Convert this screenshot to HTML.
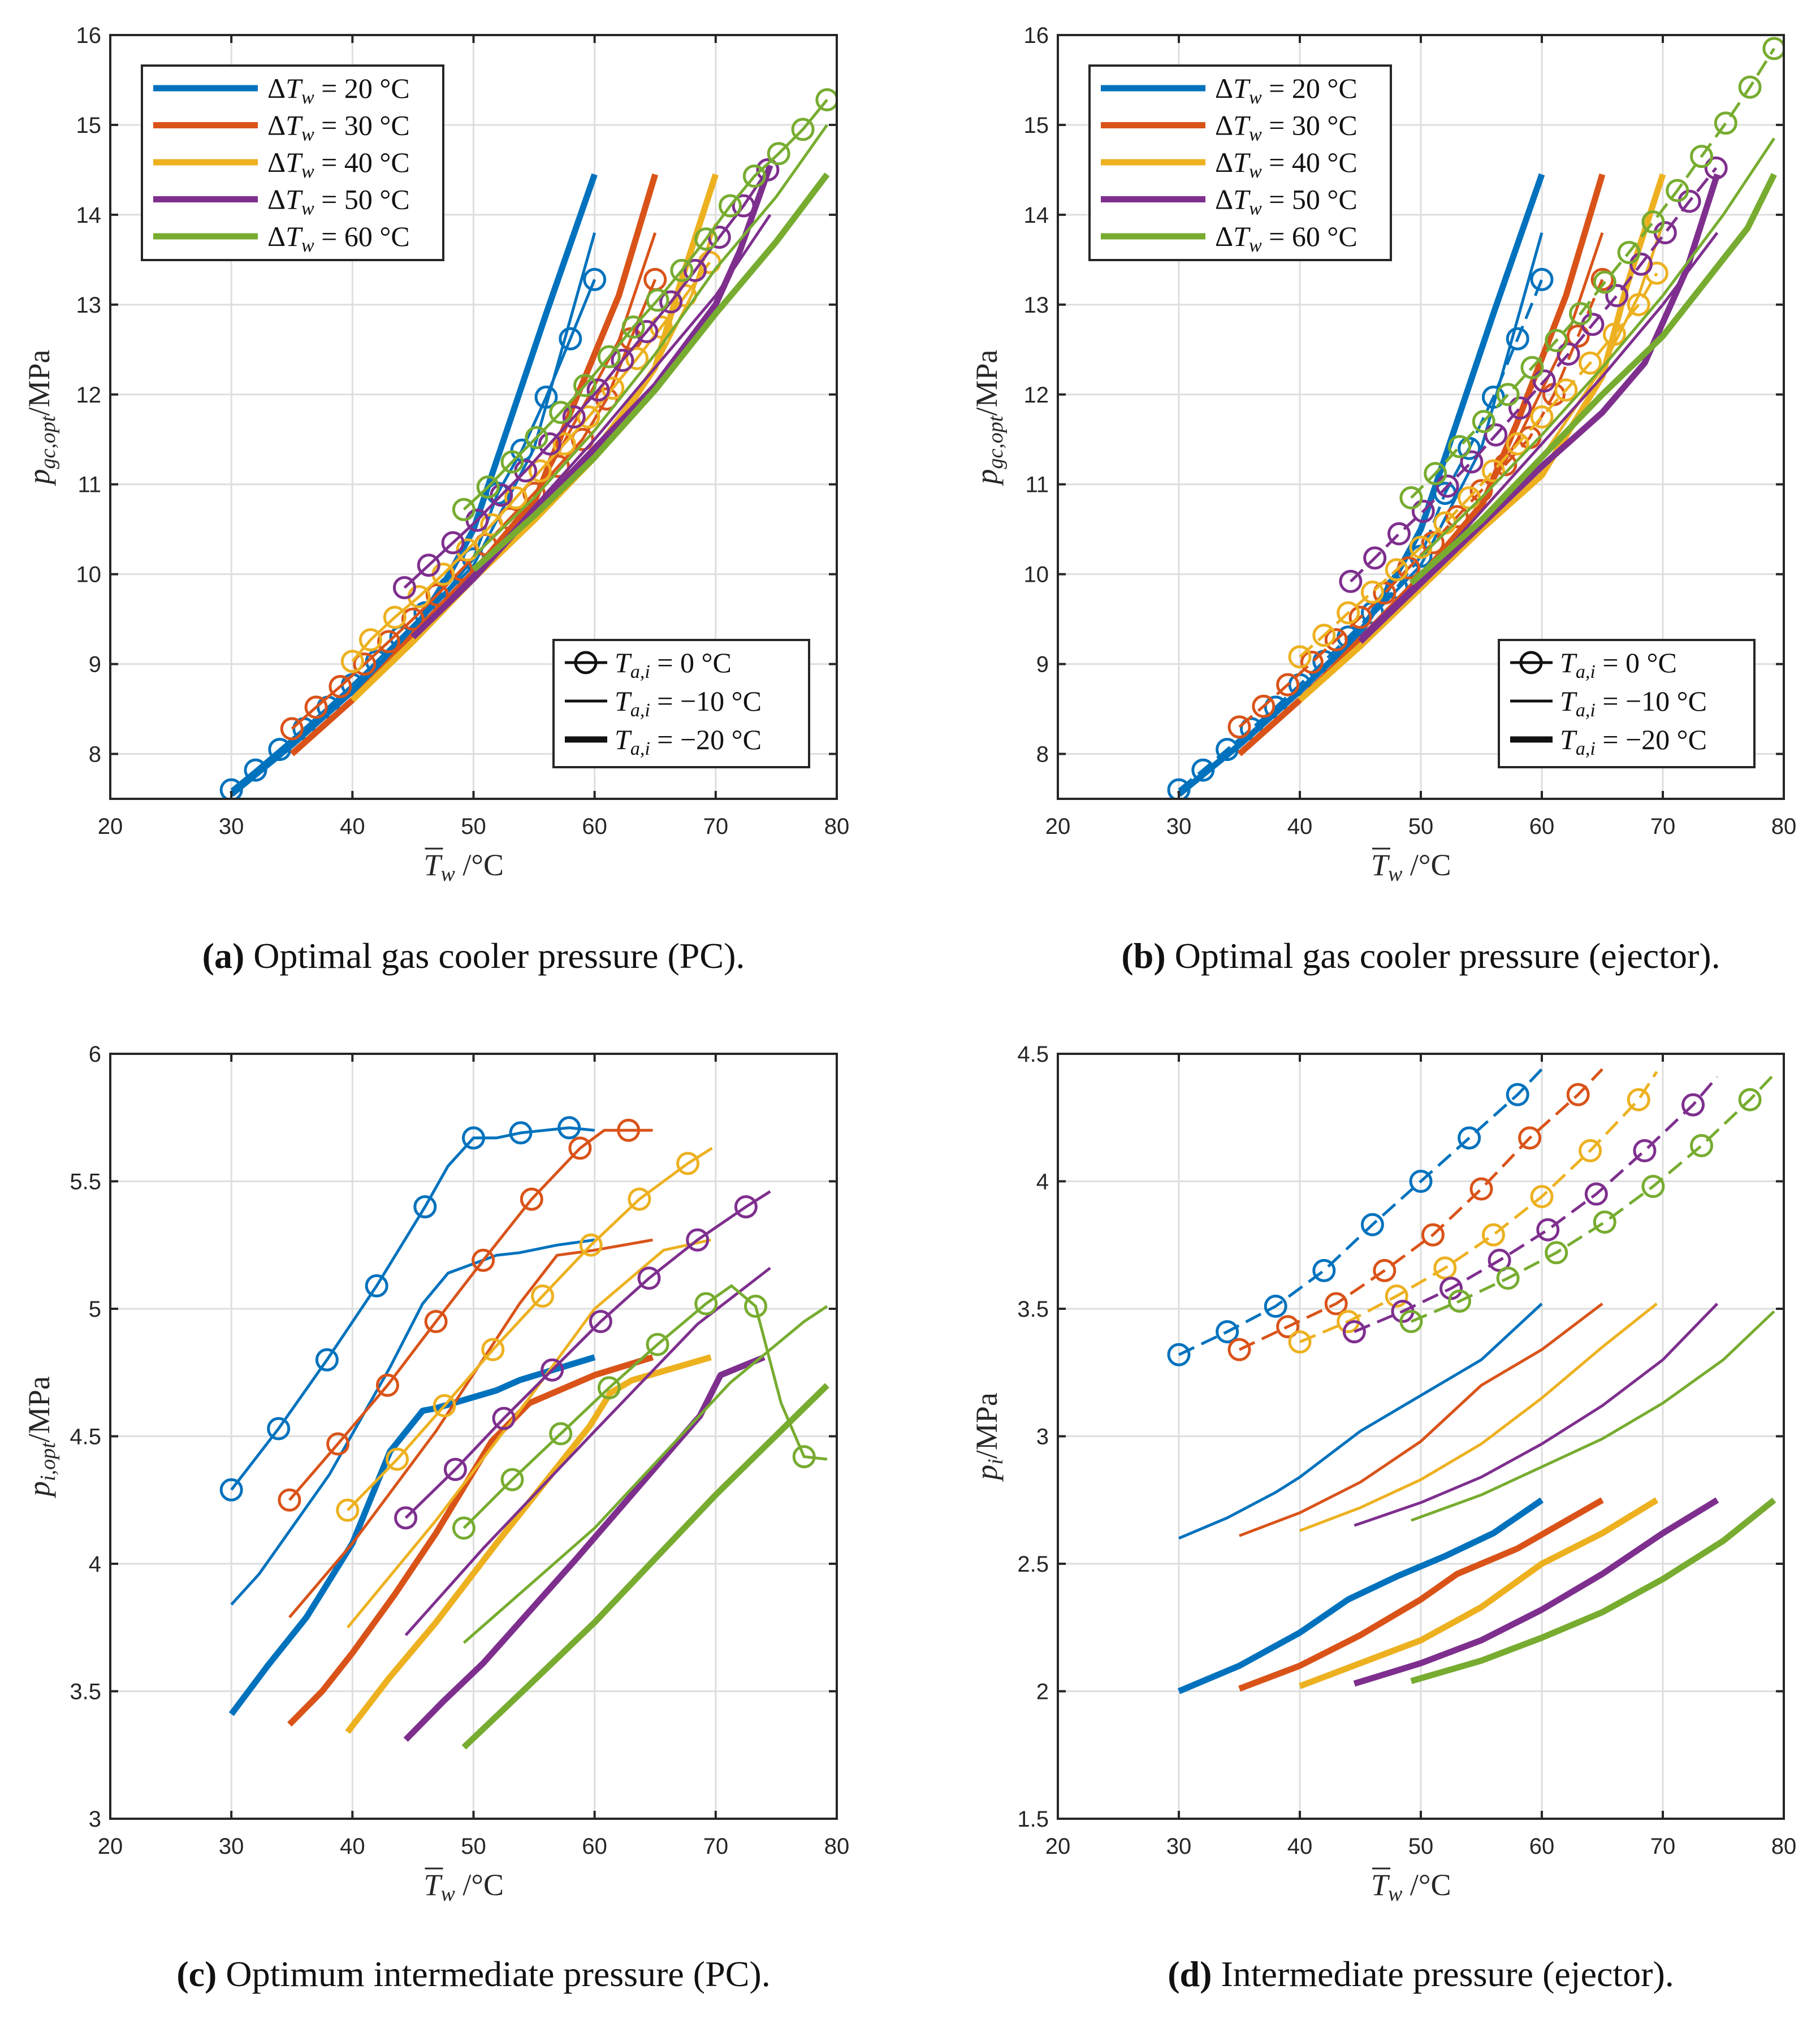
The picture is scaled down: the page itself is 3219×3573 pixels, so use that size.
<!DOCTYPE html>
<html><head><meta charset="utf-8"><style>
html,body{margin:0;padding:0;background:#fff;}
svg{display:block;}
</style></head><body>
<svg id="fig" width="3219" height="3573" viewBox="0 0 3219 3573" xmlns="http://www.w3.org/2000/svg"></svg>
<script>
// ===== Data (x = mean water temperature, y = pressure MPa) =====
const dTw = ["20","30","40","50","60"];
const colors = ["#0072BD","#D95319","#EDB120","#7E2F8E","#77AC30"];
const xTicks = [20,30,40,50,60,70,80];
const yTicksTop = [8,9,10,11,12,13,14,15,16];
const yTicksC = [3,3.5,4,4.5,5,5.5,6];
const yTickLabelsC = ["3","3.5","4","4.5","5","5.5","6"];
const yTicksD = [1.5,2,2.5,3,3.5,4,4.5];
const yTickLabelsD = ["1.5","2","2.5","3","3.5","4","4.5"];

// Panel a
const aCirc = [
 [[30,7.6],[32,7.82],[34,8.05],[36,8.28],[38,8.52],[40,8.77],[42,9.03],[44,9.3],[46,9.57],[48,9.85],[50,10.17],[52,10.9],[54,11.38],[56,11.97],[58,12.62],[60,13.28]],
 [[35,8.28],[37,8.52],[39,8.75],[41,9.0],[43,9.25],[45,9.5],[47,9.77],[49,10.05],[51,10.33],[53,10.62],[55,10.9],[57,11.2],[59,11.5],[61,11.95],[63,12.62],[65,13.28]],
 [[40,9.03],[41.5,9.27],[43.5,9.52],[45.5,9.75],[47.5,10.0],[49.5,10.27],[51.5,10.55],[53.5,10.85],[55.5,11.15],[57.5,11.45],[59.5,11.75],[61.5,12.07],[63.5,12.4],[65.5,12.75],[67.5,13.1],[69.5,13.47]],
 [[44.3,9.85],[46.3,10.1],[48.3,10.35],[50.3,10.6],[52.3,10.88],[54.3,11.15],[56.3,11.45],[58.3,11.75],[60.3,12.05],[62.3,12.38],[64.3,12.7],[66.3,13.03],[68.3,13.38],[70.3,13.75],[72.3,14.1],[74.3,14.5]],
 [[49.2,10.72],[51.2,10.97],[53.2,11.25],[55.2,11.52],[57.2,11.8],[59.2,12.1],[61.2,12.42],[63.2,12.75],[65.2,13.05],[67.2,13.38],[69.2,13.73],[71.2,14.1],[73.2,14.43],[75.2,14.68],[77.2,14.95],[79.2,15.28]]
];
const aThin = [
 [[30,7.55],[35,8.1],[40,8.7],[45,9.4],[50,10.1],[55,11.4],[60,13.8]],
 [[35,8.0],[40,8.6],[45,9.35],[50,10.05],[55,10.85],[58,11.6],[62,12.6],[65,13.8]],
 [[40,8.6],[45,9.25],[50,10.0],[55,10.7],[60,11.4],[65,12.3],[68,13.1],[70,13.9]],
 [[45,9.3],[50,10.0],[55,10.75],[60,11.5],[65,12.3],[70,13.1],[74.5,14.0]],
 [[50,10.2],[55,10.85],[60,11.6],[65,12.45],[70,13.4],[75,14.2],[79.2,15.0]]
];
const aThick = [
 [[30,7.55],[35,8.1],[40,8.7],[45,9.35],[48,10.0],[50,10.5],[53,11.7],[56,12.9],[60,14.45]],
 [[35,8.0],[40,8.6],[45,9.3],[50,10.0],[55,10.8],[58,11.8],[62,13.1],[65,14.45]],
 [[40,8.6],[45,9.25],[50,9.95],[55,10.6],[60,11.3],[65,12.3],[67,13.2],[70,14.45]],
 [[45,9.3],[50,9.95],[55,10.7],[60,11.4],[65,12.1],[70,13.0],[72,13.6],[74.5,14.55]],
 [[50,10.05],[55,10.65],[60,11.3],[65,12.05],[70,12.9],[75,13.7],[79.2,14.45]]
];
// Panel b
const bCirc = [
 [[30,7.6],[32,7.82],[34,8.05],[36,8.28],[38,8.52],[40,8.77],[42,9.03],[44,9.3],[46,9.57],[48,9.85],[50,10.2],[52,10.9],[54,11.4],[56,11.97],[58,12.62],[60,13.28]],
 [[35,8.3],[37,8.53],[39,8.77],[41,9.02],[43,9.27],[45,9.52],[47,9.79],[49,10.07],[51,10.35],[53,10.64],[55,10.93],[57,11.22],[59,11.52],[61,12.0],[63,12.65],[65,13.28]],
 [[40,9.08],[42,9.32],[44,9.57],[46,9.8],[48,10.05],[50,10.3],[52,10.57],[54,10.85],[56,11.15],[58,11.45],[60,11.75],[62,12.05],[64,12.35],[66,12.67],[68,13.0],[69.5,13.35]],
 [[44.2,9.92],[46.2,10.18],[48.2,10.45],[50.2,10.7],[52.2,10.98],[54.2,11.25],[56.2,11.55],[58.2,11.85],[60.2,12.15],[62.2,12.45],[64.2,12.78],[66.2,13.1],[68.2,13.45],[70.2,13.8],[72.2,14.15],[74.4,14.52]],
 [[49.2,10.85],[51.2,11.12],[53.2,11.42],[55.2,11.7],[57.2,12.0],[59.2,12.3],[61.2,12.6],[63.2,12.9],[65.2,13.25],[67.2,13.58],[69.2,13.92],[71.2,14.27],[73.2,14.65],[75.2,15.02],[77.2,15.42],[79.2,15.85]]
];
const bThin = [
 [[30,7.55],[35,8.1],[40,8.7],[45,9.4],[50,10.1],[55,11.4],[60,13.8]],
 [[35,8.0],[40,8.6],[45,9.3],[50,10.0],[55,10.8],[58,11.5],[62,12.6],[65,13.8]],
 [[40,8.6],[45,9.2],[50,9.9],[55,10.6],[60,11.3],[65,12.3],[68,13.1],[70,13.9]],
 [[45,9.3],[50,9.95],[55,10.7],[60,11.45],[65,12.2],[70,13.0],[74.5,13.8]],
 [[50,10.2],[55,10.85],[60,11.55],[65,12.3],[70,13.1],[75,14.0],[79.2,14.85]]
];
const bThick = [
 [[30,7.55],[35,8.1],[40,8.7],[45,9.35],[48,10.0],[50,10.5],[53,11.7],[56,12.9],[60,14.45]],
 [[35,8.0],[40,8.6],[45,9.25],[50,9.95],[55,10.75],[58,11.7],[62,13.1],[65,14.45]],
 [[40,8.6],[45,9.2],[50,9.85],[55,10.5],[60,11.1],[65,12.2],[67,13.2],[70,14.45]],
 [[45,9.25],[50,9.9],[55,10.55],[60,11.2],[65,11.8],[68.5,12.35],[72,13.4],[74.5,14.45]],
 [[49.2,9.9],[55,10.6],[60,11.3],[65,12.0],[70,12.65],[77,13.85],[79.2,14.45]]
];
// Panel c
const cCircLine = [
 [[30,4.29],[33.9,4.53],[37.9,4.8],[42,5.09],[46,5.4],[47.9,5.56],[50,5.67],[51.9,5.67],[53.9,5.69],[57.9,5.71],[60,5.7]],
 [[34.8,4.25],[38.8,4.47],[42.9,4.7],[46.9,4.95],[50.8,5.19],[54.8,5.43],[58.8,5.63],[60.8,5.7],[62.8,5.7],[64.8,5.7]],
 [[39.6,4.21],[43.7,4.41],[47.6,4.62],[51.6,4.84],[55.7,5.05],[59.7,5.25],[63.7,5.43],[67.7,5.57],[69.7,5.63]],
 [[44.4,4.18],[48.5,4.37],[52.5,4.57],[56.5,4.76],[60.5,4.95],[64.5,5.12],[68.5,5.27],[72.5,5.4],[74.5,5.46]],
 [[49.2,4.14],[53.2,4.33],[57.2,4.51],[61.2,4.69],[65.2,4.86],[69.2,5.02],[71.3,5.09],[73.3,5.01],[75.4,4.63],[77.3,4.42],[79.2,4.41]]
];
const cCircMarks = [
 [[30,4.29],[33.9,4.53],[37.9,4.8],[42,5.09],[46,5.4],[50,5.67],[53.9,5.69],[57.9,5.71]],
 [[34.8,4.25],[38.8,4.47],[42.9,4.7],[46.9,4.95],[50.8,5.19],[54.8,5.43],[58.8,5.63],[62.8,5.7]],
 [[39.6,4.21],[43.7,4.41],[47.6,4.62],[51.6,4.84],[55.7,5.05],[59.7,5.25],[63.7,5.43],[67.7,5.57]],
 [[44.4,4.18],[48.5,4.37],[52.5,4.57],[56.5,4.76],[60.5,4.95],[64.5,5.12],[68.5,5.27],[72.5,5.4]],
 [[49.2,4.14],[53.2,4.33],[57.2,4.51],[61.2,4.69],[65.2,4.86],[69.2,5.02],[73.3,5.01],[77.3,4.42]]
];
const cThin = [
 [[30,3.84],[32.3,3.96],[38.1,4.35],[43.1,4.77],[45.8,5.02],[47.9,5.14],[51.9,5.21],[53.8,5.22],[56.9,5.25],[60,5.27]],
 [[34.8,3.79],[40,4.08],[46.9,4.52],[53.8,5.02],[56.9,5.21],[60,5.23],[64.8,5.27]],
 [[39.6,3.75],[46.9,4.17],[54.6,4.65],[60,5.0],[65.7,5.23],[69.6,5.27]],
 [[44.4,3.72],[50.8,4.06],[60,4.52],[68.5,4.94],[74.5,5.16]],
 [[49.2,3.69],[60,4.14],[71.2,4.71],[77.3,4.95],[79.2,5.01]]
];
const cThick = [
 [[30,3.41],[33,3.6],[36.2,3.79],[40,4.08],[43.1,4.44],[45.8,4.6],[46.9,4.61],[51.9,4.68],[53.8,4.72],[60,4.81]],
 [[34.8,3.37],[37.5,3.5],[40,3.65],[43.5,3.88],[46.9,4.12],[51.5,4.48],[54.6,4.63],[60,4.74],[64.8,4.81]],
 [[39.6,3.34],[43,3.55],[46.9,3.77],[51.9,4.08],[59.6,4.54],[61.3,4.67],[63.1,4.72],[69.6,4.81]],
 [[44.4,3.31],[47.5,3.46],[50.8,3.61],[58.5,4.02],[68.7,4.58],[70.4,4.74],[74,4.81]],
 [[49.2,3.28],[54.5,3.52],[60,3.77],[70,4.27],[79.2,4.7]]
];
// Panel d
const dCircLine = [
 [[30,3.32],[34,3.41],[38,3.51],[42,3.65],[46,3.83],[50,4.0],[54,4.17],[58,4.34],[60,4.44]],
 [[35,3.34],[39,3.43],[43,3.52],[47,3.65],[51,3.79],[55,3.97],[59,4.17],[63,4.34],[65,4.44]],
 [[40,3.37],[44,3.45],[48,3.55],[52,3.66],[56,3.79],[60,3.94],[64,4.12],[68,4.32],[69.5,4.43]],
 [[44.5,3.41],[48.5,3.49],[52.5,3.58],[56.5,3.69],[60.5,3.81],[64.5,3.95],[68.5,4.12],[72.5,4.3],[74.5,4.41]],
 [[49.2,3.45],[53.2,3.53],[57.2,3.62],[61.2,3.72],[65.2,3.84],[69.2,3.98],[73.2,4.14],[77.2,4.32],[79.2,4.42]]
];
const dThin = [
 [[30,2.6],[34,2.68],[38,2.78],[40,2.84],[45,3.02],[50,3.16],[55,3.3],[60,3.52]],
 [[35,2.61],[40,2.7],[45,2.82],[50,2.98],[55,3.2],[60,3.34],[65,3.52]],
 [[40,2.63],[45,2.72],[50,2.83],[55,2.97],[60,3.15],[65,3.35],[69.5,3.52]],
 [[44.5,2.65],[50,2.74],[55,2.84],[60,2.97],[65,3.12],[70,3.3],[74.5,3.52]],
 [[49.2,2.67],[55,2.77],[60,2.88],[65,2.99],[70,3.13],[75,3.3],[79.2,3.49]]
];
const dThick = [
 [[30,2.0],[35,2.1],[40,2.23],[44,2.36],[48,2.45],[52,2.53],[56,2.62],[60,2.75]],
 [[35,2.01],[40,2.1],[45,2.22],[50,2.36],[53,2.46],[58,2.56],[65,2.75]],
 [[40,2.02],[45,2.11],[50,2.2],[55,2.33],[60,2.5],[65,2.62],[69.5,2.75]],
 [[44.5,2.03],[50,2.11],[55,2.2],[60,2.32],[65,2.46],[70,2.62],[74.5,2.75]],
 [[49.2,2.04],[55,2.12],[60,2.21],[65,2.31],[70,2.44],[75,2.59],[79.2,2.75]]
];

// ===== Rendering =====
const NS = "http://www.w3.org/2000/svg";
const svg = document.getElementById('fig');
function mk(tag, attrs, parent){
  const e = document.createElementNS(NS, tag);
  for (const k in attrs) e.setAttribute(k, attrs[k]);
  (parent||svg).appendChild(e);
  return e;
}

function panel(cfg){
  const g = mk('g', {});
  
  
  const L=cfg.L, R=cfg.R, T=cfg.T, B=cfg.B;
  const sx = v => L + (v-20)/(60)*(R-L);
  const sy = v => B - (v-cfg.y0)/(cfg.y1-cfg.y0)*(B-T);
  const grid = mk('g', {}, g);
  
  
  xTicks.forEach(t => { if(t>20&&t<80) mk('line',{x1:sx(t),x2:sx(t),y1:T,y2:B,stroke:'#dedede','stroke-width':3},grid); });
  cfg.yt.forEach(t => { if(t>cfg.y0&&t<cfg.y1) mk('line',{x1:L,x2:R,y1:sy(t),y2:sy(t),stroke:'#dedede','stroke-width':3},grid); });
  const cid = 'clip'+cfg.name;
  const cp = mk('clipPath',{id:cid},g); mk('rect',{x:L,y:T,width:R-L,height:B-T},cp);
  const plot = mk('g',{'clip-path':'url(#'+cid+')'},g);
  const path = pts => pts.map((p,i)=>(i?'L':'M')+sx(p[0]).toFixed(1)+' '+sy(p[1]).toFixed(1)).join(' ');
  for(let i=0;i<5;i++){
    const th = mk('path',{d:path(cfg.thick[i]),fill:'none',stroke:colors[i],'stroke-width':11,'stroke-linejoin':'round'},plot);
    
    
    const tn = mk('path',{d:path(cfg.thin[i]),fill:'none',stroke:colors[i],'stroke-width':5,'stroke-linejoin':'round'},plot);
    
    
    const cl = mk('path',{d:path(cfg.circLine[i]),fill:'none',stroke:colors[i],'stroke-width':5,'stroke-dasharray':cfg.dash||'none'},plot);
    
    
    cfg.circMarks[i].forEach(p=>{
      const c = mk('circle',{cx:sx(p[0]),cy:sy(p[1]),r:18,fill:'none',stroke:colors[i],'stroke-width':5},plot);
      
      
    });
  }
  const box = mk('rect',{x:L,y:T,width:R-L,height:B-T,fill:'none',stroke:'#262626','stroke-width':4},g);
  
  
  const tl = 14;
  xTicks.forEach(t=>{
    mk('line',{x1:sx(t),x2:sx(t),y1:B,y2:B-tl,stroke:'#262626','stroke-width':4},g);
    mk('line',{x1:sx(t),x2:sx(t),y1:T,y2:T+tl,stroke:'#262626','stroke-width':4},g);
    const tx = mk('text',{x:sx(t),y:B+62,'text-anchor':'middle','font-size':40,fill:'#262626','font-family':'Liberation Sans, sans-serif'},g);
    tx.textContent = t;
    
    
  });
  cfg.yt.forEach((t,k)=>{
    mk('line',{x1:L,x2:L+tl,y1:sy(t),y2:sy(t),stroke:'#262626','stroke-width':4},g);
    mk('line',{x1:R,x2:R-tl,y1:sy(t),y2:sy(t),stroke:'#262626','stroke-width':4},g);
    const ty = mk('text',{x:L-16,y:sy(t)+14,'text-anchor':'end','font-size':40,fill:'#262626','font-family':'Liberation Sans, sans-serif'},g);
    ty.textContent = cfg.ytl ? cfg.ytl[k] : t;
    
    
  });
  const xs = (L+R)/2 - 88;
  const xl = mk('text',{x:xs,y:B+135,'text-anchor':'start','font-size':54,fill:'#262626','font-family':'Liberation Serif, serif'},g);
  
  
  xl.innerHTML = '<tspan font-style="italic">T</tspan><tspan font-style="italic" font-size="38" dy="10">w</tspan><tspan dy="-10"> /°C</tspan>';
  mk('line',{x1:xs+2,x2:xs+34,y1:B+88,y2:B+88,stroke:'#262626','stroke-width':3},g);
  const yl = mk('text',{x:0,y:0,'text-anchor':'middle','font-size':54,fill:'#262626','font-family':'Liberation Serif, serif',transform:'translate('+(L-108)+','+((T+B)/2)+') rotate(-90)'},g);
  
  
  yl.innerHTML = '<tspan font-style="italic">p</tspan><tspan font-style="italic" font-size="38" dy="10">'+cfg.ysub+'</tspan><tspan dy="-10">/MPa</tspan>';
  const cap = mk('text',{x:(L+R)/2,y:cfg.capY,'text-anchor':'middle','font-size':64,fill:'#111','font-family':'Liberation Serif, serif'},g);
  
  
  cap.innerHTML = '<tspan font-weight="bold">'+cfg.capL+'</tspan> '+cfg.capT;
  if(cfg.legend){
    const lg = mk('g',{},g);
    
    
    const lx=L+56, ly=T+54;
    mk('rect',{x:lx,y:ly,width:533,height:344,fill:'#fff',stroke:'#262626','stroke-width':4},lg);
    for(let i=0;i<5;i++){
      const yy = ly+40+i*65.5;
      const ln = mk('line',{x1:lx+20,x2:lx+205,y1:yy,y2:yy,stroke:colors[i],'stroke-width':11},lg);
      
      
      const t = mk('text',{x:lx+222,y:yy+17,'font-size':50,fill:'#111','font-family':'Liberation Serif, serif'},lg);
      
      
      t.innerHTML = 'Δ<tspan font-style="italic">T</tspan><tspan font-style="italic" font-size="34" dy="10">w</tspan><tspan dy="-10"> = '+dTw[i]+' °C</tspan>';
    }
    const lg2 = mk('g',{},g);
    
    
    const mx=L+(cfg.L===195?784:780), my=T+1070;
    mk('rect',{x:mx,y:my,width:452,height:225,fill:'#fff',stroke:'#262626','stroke-width':4},lg2);
    const labels=['0 °C','−10 °C','−20 °C'], widths=[5,5,11];
    for(let k=0;k<3;k++){
      const yy = my+40+k*68;
      mk('line',{x1:mx+20,x2:mx+95,y1:yy,y2:yy,stroke:'#111','stroke-width':widths[k]},lg2);
      if(k===0) mk('circle',{cx:mx+57,cy:yy,r:18,fill:'none',stroke:'#111','stroke-width':5},lg2);
      const t = mk('text',{x:mx+108,y:yy+17,'font-size':50,fill:'#111','font-family':'Liberation Serif, serif'},lg2);
      
      
      t.innerHTML = '<tspan font-style="italic">T</tspan><tspan font-style="italic" font-size="34" dy="10">a,i</tspan><tspan dy="-10"> = '+labels[k]+'</tspan>';
    }
  }
}

panel({name:'panel-a',L:195,R:1480,T:62,B:1413,y0:7.5,y1:16,yt:yTicksTop,ysub:'gc,opt',capY:1712,capL:'(a)',capT:'Optimal gas cooler pressure (PC).',
  circLine:aCirc,circMarks:aCirc,thin:aThin,thick:aThick,legend:true});
panel({name:'panel-b',L:1871,R:3155,T:62,B:1413,y0:7.5,y1:16,yt:yTicksTop,ysub:'gc,opt',capY:1712,capL:'(b)',capT:'Optimal gas cooler pressure (ejector).',
  circLine:bCirc,circMarks:bCirc,thin:bThin,thick:bThick,legend:true,dash:'30 14'});
panel({name:'panel-c',L:195,R:1480,T:1864,B:3217,y0:3,y1:6,yt:yTicksC,ytl:yTickLabelsC,ysub:'i,opt',capY:3513,capL:'(c)',capT:'Optimum intermediate pressure (PC).',
  circLine:cCircLine,circMarks:cCircMarks,thin:cThin,thick:cThick});
panel({name:'panel-d',L:1871,R:3155,T:1864,B:3217,y0:1.5,y1:4.5,yt:yTicksD,ytl:yTickLabelsD,ysub:'i',capY:3513,capL:'(d)',capT:'Intermediate pressure (ejector).',
  circLine:dCircLine,circMarks:dCircLine.map(s=>s.slice(0,8)),thin:dThin,thick:dThick,dash:'30 14'});
</script>
</body></html>
